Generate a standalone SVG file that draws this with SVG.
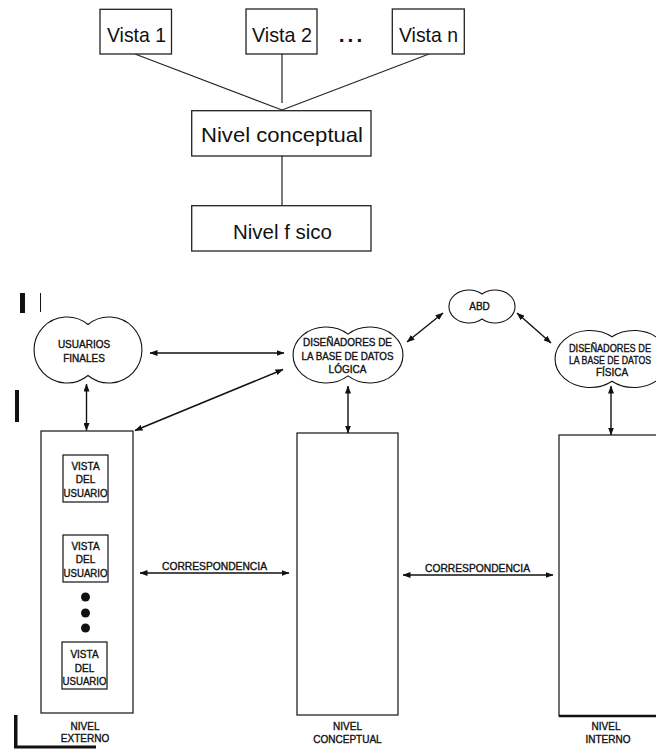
<svg xmlns="http://www.w3.org/2000/svg" width="656" height="749" viewBox="0 0 656 749">
<style>
.bx{fill:#fff;stroke:#222;stroke-width:1.3}
.ln{stroke:#222;stroke-width:1.2;fill:none}
.t1{font-family:"Liberation Sans",Arial,sans-serif;font-size:21px;fill:#111;text-anchor:middle}
.cl{fill:#fff;stroke:#111;stroke-width:1.1}
.ar{stroke:#111;stroke-width:1.4;fill:none;marker-start:url(#ah);marker-end:url(#ah)}
.t2{font-family:"Liberation Sans",Arial,sans-serif;font-size:10px;fill:#111;stroke:#111;stroke-width:0.35;text-anchor:middle}
.rb{fill:#fff;stroke:#111;stroke-width:1.2}
.art{fill:#111;stroke:none}
</style>
<defs>
<marker id="ah" markerUnits="userSpaceOnUse" markerWidth="8" markerHeight="6" refX="7.5" refY="3" orient="auto-start-reverse">
<path d="M0,0 L8,3 L0,6 z" fill="#111"/>
</marker>
</defs>
<rect width="656" height="749" fill="#fff"/>

<!-- top diagram connectors -->
<g id="top-connectors">
<line class="ln" x1="135" y1="54" x2="282" y2="110"/>
<line class="ln" x1="282" y1="54" x2="282" y2="103"/>
<line class="ln" x1="429" y1="54" x2="282" y2="110"/>
<line class="ln" x1="282" y1="156" x2="282" y2="206"/>
</g>
<g id="vista1"><rect class="bx" x="100" y="9.3" width="71.5" height="44.7"/><text class="t1" x="136.5" y="41.5" textLength="59" lengthAdjust="spacingAndGlyphs">Vista 1</text></g>
<g id="vista2"><rect class="bx" x="246" y="9" width="71" height="45"/><text class="t1" x="282" y="41.5" textLength="60" lengthAdjust="spacingAndGlyphs">Vista 2</text></g>
<g id="dots"><text class="t1" x="352" y="41.5" font-weight="bold" letter-spacing="3">...</text></g>
<g id="vistan"><rect class="bx" x="392.3" y="9" width="72" height="45"/><text class="t1" x="428.5" y="41.5" textLength="59" lengthAdjust="spacingAndGlyphs">Vista n</text></g>
<g id="nivel-conceptual"><rect class="bx" x="191.7" y="110.7" width="179.3" height="45.3"/><text class="t1" x="282" y="141.5" textLength="162" lengthAdjust="spacingAndGlyphs">Nivel conceptual</text></g>
<g id="nivel-fisico"><rect class="bx" x="191.7" y="205.7" width="179.3" height="45.3"/><text class="t1" x="282.5" y="239" textLength="99" lengthAdjust="spacingAndGlyphs">Nivel f sico</text></g>

<!-- scan artifacts -->
<g id="artifacts">
<rect class="art" x="20" y="293" width="5" height="20"/>
<rect class="art" x="40" y="293" width="1" height="19"/>
<rect class="art" x="15" y="390" width="4" height="32"/>
<rect class="art" x="41" y="453" width="2" height="24"/>
<rect class="art" x="41" y="466" width="8" height="6"/>
<rect class="art" x="41" y="637" width="2" height="31"/>
<rect class="art" x="41" y="661" width="8" height="6"/>
<rect class="art" x="14" y="715" width="3.5" height="33"/>
<rect class="art" x="14" y="745.5" width="82" height="3"/>
</g>

<!-- bottom connectors -->
<g id="connectors">
<line class="ar" x1="150" y1="353" x2="284" y2="353"/>
<line class="ar" x1="283" y1="369.5" x2="135" y2="430.5"/>
<line class="ar" x1="86.5" y1="384" x2="86.5" y2="430.5"/>
<line class="ar" x1="348" y1="386" x2="348" y2="433"/>
<line class="ar" x1="443" y1="313" x2="407" y2="342"/>
<line class="ar" x1="517" y1="313" x2="551" y2="343"/>
<line class="ar" x1="611" y1="386" x2="611" y2="435"/>
<line class="ar" x1="140" y1="573" x2="289" y2="573"/>
<line class="ar" x1="403" y1="575" x2="553" y2="575"/>
<text class="t2" x="214.5" y="570" textLength="105" lengthAdjust="spacingAndGlyphs">CORRESPONDENCIA</text>
<text class="t2" x="477.5" y="572" textLength="105" lengthAdjust="spacingAndGlyphs">CORRESPONDENCIA</text>
</g>

<g id="usuarios-finales">
<path class="cl" d="M88,324.5 A33,33 0 1 0 88,375.5 A33,33 0 1 0 88,324.5 Z"/>
<text class="t2" x="84" y="348">USUARIOS</text>
<text class="t2" x="84" y="362">FINALES</text>
</g>
<g id="disenadores-logica">
<path class="cl" d="M348,334.1 A33,28 0 1 0 348,375.9 A33,28 0 1 0 348,334.1 Z"/>
<text class="t2" x="347.5" y="346" textLength="89" lengthAdjust="spacingAndGlyphs">DISEÑADORES DE</text>
<text class="t2" x="347.5" y="360" textLength="92" lengthAdjust="spacingAndGlyphs">LA BASE DE DATOS</text>
<text class="t2" x="347.5" y="373">LÓGICA</text>
</g>
<g id="abd">
<path class="cl" d="M482,294 A20,16.5 0 1 0 482,319 A20,16.5 0 1 0 482,294 Z"/>
<text class="t2" x="479.5" y="310">ABD</text>
</g>
<g id="disenadores-fisica">
<path class="cl" d="M612,336.8 A35,28.5 0 1 0 612,381.2 A35,28.5 0 1 0 612,336.8 Z"/>
<text class="t2" x="610" y="352" textLength="82" lengthAdjust="spacingAndGlyphs">DISEÑADORES DE</text>
<text class="t2" x="610" y="364" textLength="82" lengthAdjust="spacingAndGlyphs">LA BASE DE DATOS</text>
<text class="t2" x="612" y="376">FÍSICA</text>
</g>

<g id="nivel-externo">
<rect class="rb" x="41" y="431" width="92" height="282"/>
<text class="t2" x="85" y="730">NIVEL</text>
<text class="t2" x="85" y="742">EXTERNO</text>
</g>
<g id="vista-usuario-1">
<rect class="rb" x="63" y="455" width="45" height="47"/>
<text class="t2" x="85.5" y="470">VISTA</text><text class="t2" x="85.5" y="483">DEL</text><text class="t2" x="85.5" y="497" textLength="44" lengthAdjust="spacingAndGlyphs">USUARIO</text>
</g>
<g id="vista-usuario-2">
<rect class="rb" x="63" y="535" width="45" height="47"/>
<text class="t2" x="85.5" y="550">VISTA</text><text class="t2" x="85.5" y="563">DEL</text><text class="t2" x="85.5" y="577" textLength="44" lengthAdjust="spacingAndGlyphs">USUARIO</text>
</g>
<g id="puntos">
<circle cx="85.5" cy="597" r="4.5" fill="#111"/>
<circle cx="85.5" cy="613" r="4.5" fill="#111"/>
<circle cx="85.5" cy="628" r="4.5" fill="#111"/>
</g>
<g id="vista-usuario-3">
<rect class="rb" x="62" y="642" width="45" height="47"/>
<text class="t2" x="84.5" y="658">VISTA</text><text class="t2" x="84.5" y="672">DEL</text><text class="t2" x="84.5" y="685" textLength="44" lengthAdjust="spacingAndGlyphs">USUARIO</text>
</g>
<g id="nivel-conceptual-b">
<rect class="rb" x="297" y="433" width="101" height="282"/>
<text class="t2" x="347.5" y="730">NIVEL</text>
<text class="t2" x="347.5" y="743">CONCEPTUAL</text>
</g>
<g id="nivel-interno">
<rect class="rb" x="559" y="435" width="120" height="281"/>
<line x1="559" y1="716" x2="656" y2="716" stroke="#111" stroke-width="2.5"/>
<text class="t2" x="606" y="730">NIVEL</text>
<text class="t2" x="608" y="743">INTERNO</text>
</g>
</svg>
